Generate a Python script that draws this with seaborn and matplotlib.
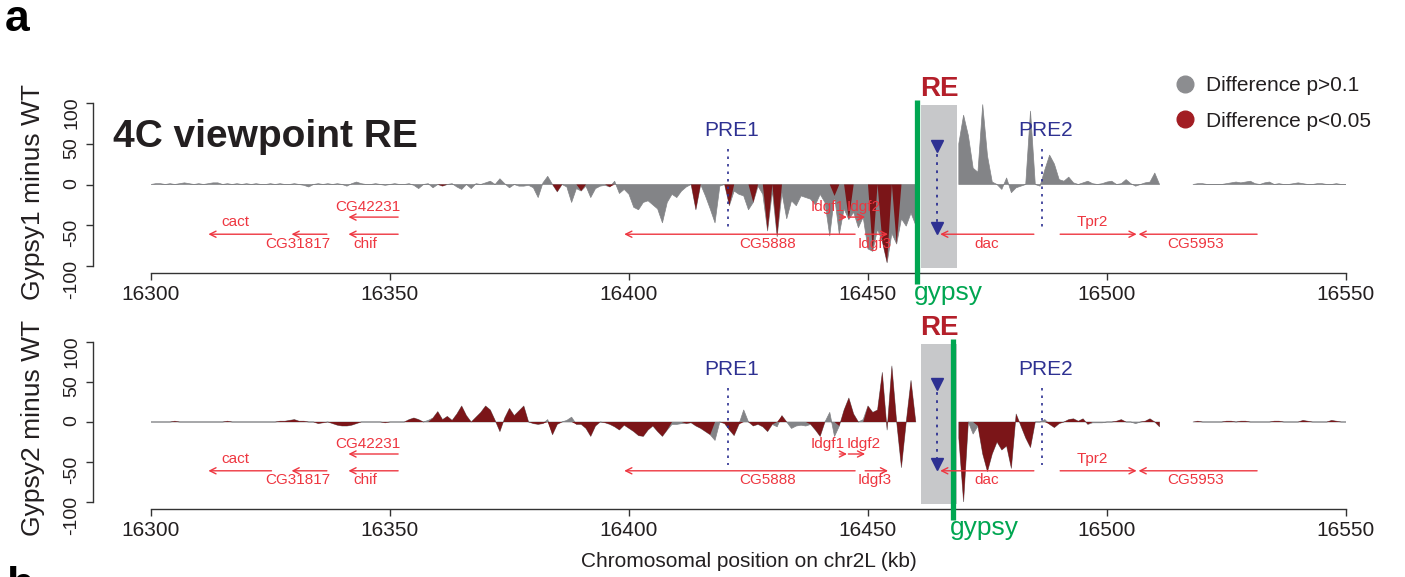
# 4C difference tracks (gypsy lines minus WT) around the dac locus
# panel a only, redrawn from the figure

import numpy as np
import matplotlib
matplotlib.use("Agg")
import matplotlib.pyplot as plt
from matplotlib.lines import Line2D
from matplotlib.patches import Rectangle
import seaborn as sns

W, H = 1405, 577

# 1 kb bins along chr2L
kb = np.arange(16300, 16551)

# None = no data (hidden under the viewpoint box / gap in the track)
gypsy1_diff = [
    0, 1, 1, 0, 1, 0, 1, 2, 1, 0,            # 16300
    1, 0, 1, 2, 2, 0, 1, 0, 1, 0,            # 16310
    1, 0, 1, 0, 0, 1, 0, 1, 0, 0,            # 16320
    1, 0, -1, -3, 0, 1, 0, 1, 0, 1,          # 16330
    0, -2, 1, 3, 1, 0, 0, 1, 0, -1,          # 16340
    0, 1, 0, 0, 1, -1, -5, 0, 1, -4,         # 16350
    0, -2, 0, 1, -3, -6, 0, -5, 1, 0,        # 16360
    2, 4, 0, 7, 1, -4, 0, -2, -2, -1,        # 16370
    -4, -16, 2, 10, 0, -9, 0, -3, -22, -5,   # 16380
    -8, -2, -16, -5, -2, -1, -3, 4, -11, -6,  # 16390
    -12, -28, -31, -22, -20, -25, -30, -47, -22, -12,  # 16400
    -16, -8, -3, 0, -31, 0, -14, -30, -47, -2,         # 16410
    0, -26, -8, -12, -14, -31, -22, -2, -12, -57,      # 16420
    -8, -64, -10, -42, -20, -26, -14, -16, -18, -25,   # 16430
    -12, -22, -63, -14, -61, -30, -43, -34, -53, -40,  # 16440
    -79, -82, -55, -70, -96, -60, -73, -42, -51, -35,  # 16450
    -50, None, None, None, None, None, None, None, None, 50,  # 16460
    85, 60, 20, 15, 98, 35, 3, 0, -6, 8,     # 16470
    -10, -4, -2, 0, 90, 0, -2, 18, 36, 25,   # 16480
    6, 4, 9, 2, 0, 2, 4, 1, 0, 1,            # 16490
    3, 4, 0, 1, 6, 1, -2, 0, 2, 3,           # 16500
    14, 0, None, None, None, None, None, None, 0, 1,  # 16510
    1, 0, 0, 0, 0, 1, 2, 3, 2, 3,            # 16520
    4, 1, 0, 2, 3, 0, 1, 0, 0, 1,            # 16530
    2, 1, 0, 0, 1, 1, 0, 0, 1, 0,            # 16540
    0,
]

gypsy2_diff = [
    0, 0, 0, 0, 0, 1, 0, 0, 0, 0,            # 16300
    0, 0, 0, 0, 0, 0, 1, 0, 0, 0,            # 16310
    0, 0, 0, 0, 0, 0, 0, 1, 1, 2,            # 16320
    3, 1, 1, 0, 0, -2, -1, 0, -2, -4,        # 16330
    -5, -5, -4, -2, 0, 0, 0, 0, 0, -1,       # 16340
    0, 0, 0, 0, 3, 5, 3, 0, 2, 5,            # 16350
    13, 3, 7, 2, 10, 20, 8, 0, 6, 12,        # 16360
    20, 15, 2, -12, 5, 17, 8, 14, 20, 0,     # 16370
    -2, -3, -2, 3, -16, -3, 0, 2, 6, -3,     # 16380
    -3, -8, -18, -5, 0, -1, -3, -6, -10, -4,  # 16390
    -8, -12, -17, -18, -10, -5, -12, -18, -10, -3,  # 16400
    -3, -2, -2, -1, -5, -8, -12, -16, -23, 0,       # 16410
    -2, -10, -17, -3, 15, 0, -5, -3, -6, -12,       # 16420
    -3, -6, 8, 0, -8, -5, -4, -5, -3, -10,          # 16430
    -18, 0, 12, -18, -5, 15, 30, 10, 0, 3,          # 16440
    20, 12, 15, 62, -10, 70, 0, -57, 0, 52,         # 16450
    0, None, None, None, None, None, None, None, None, -20,  # 16460
    -100, 0, -15, -5, -40, -62, -40, -25, -35, -30,  # 16470
    -58, 10, -5, -20, -32, 0, 0, 3, -3, -7,          # 16480
    -2, 0, 3, 4, 1, 4, -3, -1, -1, -1,      # 16490
    0, 0, 1, 3, 0, 0, -2, 0, 1, 4,          # 16500
    0, -6, None, None, None, None, None, None, 0, 1,  # 16510
    0, 0, 0, 0, 0, 1, 1, 0, 1, 1,           # 16520
    0, 0, 0, 0, 0, 1, 1, 0, 0, 0,           # 16530
    0, 2, 1, 0, 0, 0, 0, 2, 1, 0,           # 16540
    0,
]

# bins with p<0.05 in gypsy1, bins with p>0.1 in gypsy2 (the rest of gypsy2 is significant)
gypsy1_red_kb = [16361, 16385, 16390, 16396, 16414, 16421, 16426, 16429, 16431,
                 16443, 16446, 16451, 16453, 16454, 16456]
gypsy2_grey_kb = [16358, 16367, 16379, 16383, 16387, 16388, 16409, 16410, 16411,
                  16418, 16424, 16431, 16434, 16435, 16436, 16437, 16442, 16443,
                  16449, 16472, 16487, 16497, 16498, 16499, 16506]

# annotation features (kb)
re_start, re_end = 16461.0, 16468.7
gypsy_kb = [16460.25, 16467.8]
pre_names = ["PRE1", "PRE2"]
pre_kb = [16420.7, 16486.4]

gene_names = ["cact", "CG31817", "CG42231", "chif", "CG5888", "Idgf1", "Idgf2",
              "Idgf3", "dac", "Tpr2", "CG5953"]
gene_tail = [16325.2, 16336.8, 16351.7, 16351.7, 16447.3, 16444.1, 16445.9,
             16449.4, 16484.7, 16490.2, 16531.4]
gene_head = [16312.0, 16329.4, 16341.3, 16341.3, 16399.0, 16445.6, 16449.4,
             16454.2, 16465.1, 16506.2, 16506.6]
gene_row = [-61, -61, -40, -61, -61, -40, -40, -61, -61, -61, -61]
gene_label_x = [16317.7, 16330.8, 16345.3, 16344.8, 16428.9, 16441.6, 16449.0,
                16451.5, 16474.8, 16497.0, 16518.6]
gene_label_y = [-46, -73, -28, -73, -73, -28, -28, -73, -73, -46, -73]

GREY = "#838487"
DARKRED = "#7b1518"
GENE_RED = "#ee3640"
NAVY = "#2e3192"
GREEN = "#00a651"
BOX = "#c7c8ca"
TXT = "#231f20"

sns.set_theme(style="ticks")
plt.rcParams["font.family"] = ["Liberation Sans", "DejaVu Sans"]
plt.rcParams["axes.unicode_minus"] = False
plt.rcParams["axes.edgecolor"] = "#333333"
plt.rcParams["xtick.color"] = "#333333"
plt.rcParams["ytick.color"] = "#333333"


def draw_panel(ax, diff, red_mask, gypsy_x, ylabel, ylabel_py):
    vals = np.array(diff, dtype=float)
    red_vals = np.where(red_mask, vals, np.where(np.isnan(vals), np.nan, 0.0))

    ax.fill_between(kb, 0, vals, color=GREY, lw=0.5, zorder=2)
    ax.fill_between(kb, 0, red_vals, color=DARKRED, lw=0, zorder=3)

    # viewpoint box + gypsy insertion
    ax.add_patch(Rectangle((re_start, -102), re_end - re_start, 200,
                           color=BOX, lw=0, zorder=4, clip_on=False))
    mid = (re_start + re_end) / 2
    ax.text(mid, 117, "RE", color="#b41f2a", fontsize=20, fontweight="bold",
            ha="center", va="center")
    ax.plot([mid - 0.4, mid - 0.4], [47, -53], ls=(0, (1.5, 3)), color=NAVY, lw=1.3, zorder=5)
    ax.plot([mid - 0.4, mid - 0.4], [47, -53], ls="", marker="v", ms=8, color=NAVY, zorder=5)
    ax.plot([gypsy_x, gypsy_x], [104, -122], color=GREEN, lw=3.8, zorder=6,
            clip_on=False, solid_capstyle="butt")
    ax.text(gypsy_x - 0.6, -133, "gypsy", color=GREEN, fontsize=19, ha="left", va="center")

    for name, x in zip(pre_names, pre_kb):
        ax.plot([x, x], [43, -54], ls=(0, (1.5, 3)), color=NAVY, lw=1.2, zorder=5)
        ax.text(x + 0.8, 66, name, color=NAVY, fontsize=15, ha="center", va="center")

    for name, t, h, y, lx, ly in zip(gene_names, gene_tail, gene_head, gene_row,
                                     gene_label_x, gene_label_y):
        ax.annotate("", xy=(h, y), xytext=(t, y),
                    arrowprops=dict(arrowstyle="->", color=GENE_RED, lw=1.0,
                                    mutation_scale=11, shrinkA=0, shrinkB=0),
                    zorder=7)
        ax.text(lx, ly, name, color=GENE_RED, fontsize=11, ha="center", va="center", zorder=7)

    ax.set_xlim(16300, 16550)
    ax.set_ylim(-100, 100)
    ax.set_xticks([16300, 16350, 16400, 16450, 16500, 16550])
    ax.set_yticks([-100, -50, 0, 50, 100])
    ax.tick_params(axis="x", labelsize=15, length=5, width=1, pad=4, labelcolor=TXT)
    ax.tick_params(axis="y", labelsize=14, length=5, width=1, pad=4,
                   labelrotation=90, labelcolor=TXT)
    plt.setp(ax.get_yticklabels(), va="center")
    sns.despine(ax=ax, offset={"left": 42, "bottom": 5}, trim=True)
    for s in ["left", "bottom"]:
        ax.spines[s].set_linewidth(1.0)

    fig.text(33 / W, 1 - ylabel_py / H, ylabel, rotation=90, fontsize=19,
             ha="center", va="center", color=TXT)


fig = plt.figure(figsize=(W / 100, H / 100), dpi=100)
ax_top = fig.add_axes([151 / W, 1 - 266 / H, 1195 / W, 163 / H])
ax_bot = fig.add_axes([151 / W, 1 - 502 / H, 1195 / W, 160 / H])

draw_panel(ax_top, gypsy1_diff, np.isin(kb, gypsy1_red_kb), gypsy_kb[0], "Gypsy1 minus WT", 192)
draw_panel(ax_bot, gypsy2_diff, ~np.isin(kb, gypsy2_grey_kb), gypsy_kb[1], "Gypsy2 minus WT", 428)

ax_bot.set_xlabel("Chromosomal position on chr2L (kb)", fontsize=15, color=TXT, labelpad=8.5)

fig.text(113 / W, 1 - 147 / H, "4C viewpoint RE", fontsize=28, fontweight="bold",
         color=TXT, ha="left", va="baseline")
fig.text(5 / W, 1 - 31 / H, "a", fontsize=32, fontweight="bold", color="black",
         ha="left", va="baseline")
fig.text(6 / W, 1 - 566 / H, "b", fontsize=32, fontweight="bold", color="black",
         ha="left", va="top")

handles = [Line2D([], [], ls="", marker="o", ms=12, color="#8c8d90"),
           Line2D([], [], ls="", marker="o", ms=12, color="#a21d23")]
fig.legend(handles, ["Difference p>0.1", "Difference p<0.05"], loc="upper left",
           bbox_to_anchor=(1175 / W, 1 - 76 / H), frameon=False, fontsize=15,
           handlelength=1.0, handletextpad=0.5, labelspacing=0.8,
           borderpad=0, borderaxespad=0, labelcolor=TXT)

fig.savefig("out.png", dpi=100)
plt.close(fig)
